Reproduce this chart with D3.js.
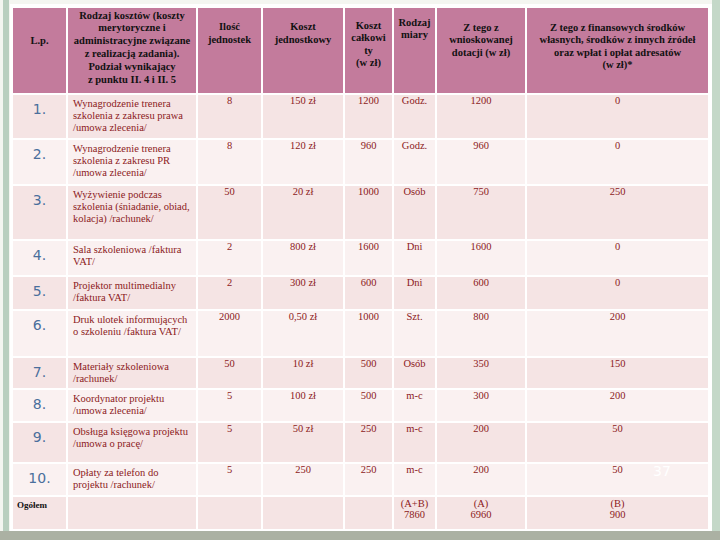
<!DOCTYPE html>
<html><head><meta charset="utf-8">
<script src="https://cdn.jsdelivr.net/npm/d3@7"></script>
<style>body{margin:0;background:#f4f6f1;}svg{display:block;}
.sf{font-family:"Liberation Serif","DejaVu Serif",serif;}
.ss{font-family:"DejaVu Sans","Liberation Sans",sans-serif;}
</style>
</head><body>
<script>
// ---- data ----
const headers = [
  ["L.p."],
  ["Rodzaj kosztów (koszty","merytoryczne i","administracyjne związane","z realizacją zadania).","Podział wynikający","z punktu II. 4 i II. 5"],
  ["Ilość","jednostek"],
  ["Koszt","jednostkowy"],
  ["Koszt","całkowi","ty","(w zł)"],
  ["Rodzaj","miary"],
  ["Z tego z","wnioskowanej","dotacji (w zł)"],
  ["Z tego z finansowych środków","własnych, środków z innych źródeł","oraz wpłat i opłat adresatów","(w zł)*"]
];
const lp = ["1.","2.","3.","4.","5.","6.","7.","8.","9.","10."];
const opis = [
  ["Wynagrodzenie trenera","szkolenia z zakresu prawa","/umowa zlecenia/"],
  ["Wynagrodzenie trenera","szkolenia z zakresu PR","/umowa zlecenia/"],
  ["Wyżywienie podczas","szkolenia (śniadanie, obiad,","kolacja) /rachunek/"],
  ["Sala szkoleniowa /faktura","VAT/"],
  ["Projektor multimedialny","/faktura VAT/"],
  ["Druk ulotek informujących","o szkoleniu /faktura VAT/"],
  ["Materiały szkoleniowa","/rachunek/"],
  ["Koordynator projektu","/umowa zlecenia/"],
  ["Obsługa księgowa projektu","/umowa o pracę/"],
  ["Opłaty za telefon do","projektu /rachunek/"]
];
const ilosc = ["8","8","50","2","2","2000","50","5","5","5"];
const kosztJedn = ["150 zł","120 zł","20 zł","800 zł","300 zł","0,50 zł","10 zł","100 zł","50 zł","250"];
const kosztCalk = [1200,960,1000,1600,600,1000,500,500,250,250];
const miara = ["Godz.","Godz.","Osób","Dni","Dni","Szt.","Osób","m-c","m-c","m-c"];
const dotacja = [1200,960,750,1600,600,800,350,300,200,200];
const wlasne = [0,0,250,0,0,200,150,200,50,50];
const totalLabel = "Ogółem";
const totals = [["(A+B)","7860"],["(A)","6960"],["(B)","900"]];
const pageNo = "37";

// ---- layout ----
const W=720,H=540;
const colEdges=[12,67,197,262,344,393,436,526,709];
const rowEdges=[7,94,139,185,240,276,310,357,389,422,463,496,530];
const C={head:"#c37b9c",dark:"#f5e4e4",light:"#faf1f1",txt:"#8c1a22",num:"#4a6f9c"};

const svg=d3.select("body").append("svg").attr("width",W).attr("height",H);
svg.append("rect").attr("width",W).attr("height",H).attr("fill","#f4f6f1");
svg.append("rect").attr("x",3).attr("y",0).attr("width",6).attr("height",H).attr("fill","#b9cfbf");
svg.append("rect").attr("x",712).attr("y",0).attr("width",8).attr("height",H).attr("fill","#c4d8c8");
svg.append("rect").attr("x",0).attr("y",531).attr("width",W).attr("height",9).attr("fill","#abb1a3");
svg.append("rect").attr("x",10).attr("y",4).attr("width",702).attr("height",527).attr("fill","#ffffff");

const cx=d3.scaleOrdinal().domain(d3.range(8)).range(d3.range(8).map(i=>(colEdges[i]+colEdges[i+1])/2));
const ny=rowEdges.length-1;

const cells=[];
for(let r=0;r<ny;r++)for(let c=0;c<8;c++)cells.push({r,c});
svg.append("g").selectAll("rect").data(cells).join("rect")
 .attr("x",d=>colEdges[d.c]+1).attr("y",d=>rowEdges[d.r]+1)
 .attr("width",d=>colEdges[d.c+1]-colEdges[d.c]-2)
 .attr("height",d=>rowEdges[d.r+1]-rowEdges[d.r]-2)
 .attr("fill",d=>d.r===0?C.head:(d.r%2===1?C.dark:C.light));

// header text
const hg=svg.append("g").attr("class","sf").attr("font-weight","bold").attr("font-size",10.5).attr("fill","#111").attr("text-anchor","middle");
const headStart=[40,15,26,26,25,22,27,27];
const headStep=[13,12.8,13,13,12.6,12,12.6,12.5];
headers.forEach((lines,c)=>{
  hg.selectAll(null).data(lines).join("text")
   .attr("x",cx(c)).attr("y",(d,i)=>headStart[c]+i*headStep[c]).attr("dy","0.35em").text(d=>d);
});

// body
const bg=svg.append("g").attr("class","sf").attr("font-size",10.5).attr("fill",C.txt);
lp.forEach((v,i)=>{
  const top=rowEdges[i+1];
  svg.append("text").attr("class","ss").attr("x",cx(0)).attr("y",top+15).attr("dy","0.35em").attr("text-anchor","middle")
   .attr("font-size",14).attr("fill",C.num).text(v);
  bg.selectAll(null).data(opis[i]).join("text").attr("x",73).attr("y",(d,k)=>top+9+k*12.4).attr("dy","0.35em").text(d=>d);
  const vals=[ilosc[i],kosztJedn[i],kosztCalk[i],miara[i],dotacja[i],wlasne[i]];
  bg.selectAll(null).data(vals).join("text").attr("x",(d,k)=>cx(k+2)).attr("y",top+6).attr("dy","0.35em")
   .attr("text-anchor","middle").text(d=>d);
});
const tTop=rowEdges[11];
svg.append("text").attr("class","sf").attr("x",17).attr("y",tTop+9).attr("dy","0.35em")
  .attr("font-weight","bold").attr("font-size",9).attr("fill","#111").text(totalLabel);
totals.forEach((t,k)=>{
  bg.selectAll(null).data(t).join("text").attr("x",cx(k+5)).attr("y",(d,j)=>tTop+7+j*11.5).attr("dy","0.35em")
   .attr("text-anchor","middle").text(d=>d);
});
svg.append("text").attr("class","ss").attr("x",662).attr("y",471).attr("dy","0.35em").attr("text-anchor","middle")
  .attr("font-size",14).attr("fill","#ffffff").text(pageNo);
</script>
</body></html>
